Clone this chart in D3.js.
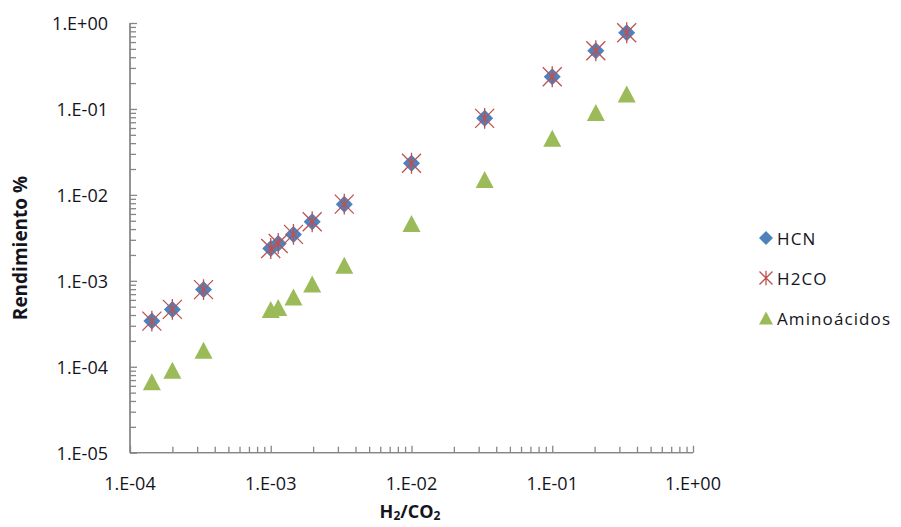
<!DOCTYPE html>
<html><head><meta charset="utf-8">
<script src="https://cdn.jsdelivr.net/npm/d3@7"></script>
<style>
body{margin:0;background:#fff;}
text{font-family:"Open Sans",sans-serif;fill:#14141c;}
</style></head>
<body><svg id="c" width="901" height="527"></svg>
<script>
const xVals   = [1.43e-4, 2.0e-4, 3.33e-4, 1.0e-3, 1.13e-3, 1.45e-3, 1.97e-3, 3.33e-3, 1.0e-2, 3.31e-2, 0.1, 0.204, 0.338];
const hcn     = [3.4e-4, 4.65e-4, 7.9e-4, 2.38e-3, 2.72e-3, 3.47e-3, 4.86e-3, 7.8e-3, 2.33e-2, 7.77e-2, 0.237, 0.476, 0.771];
const h2co    = [3.4e-4, 4.65e-4, 7.9e-4, 2.38e-3, 2.72e-3, 3.47e-3, 4.86e-3, 7.8e-3, 2.33e-2, 7.77e-2, 0.237, 0.476, 0.771];
const amino   = [6.7e-5, 9.1e-5, 1.56e-4, 4.65e-4, 4.9e-4, 6.5e-4, 9.2e-4, 1.52e-3, 4.66e-3, 1.51e-2, 4.55e-2, 9.12e-2, 0.149];
const seriesNames = ["HCN", "H2CO", "Aminoácidos"];
const xTickLabels = ["1.E-04","1.E-03","1.E-02","1.E-01","1.E+00"];
const yTickLabels = ["1.E-05","1.E-04","1.E-03","1.E-02","1.E-01","1.E+00"];

const svg = d3.select("#c");
const x = d3.scaleLog().domain([1e-4, 1]).range([130, 693]);
const y = d3.scaleLog().domain([1e-5, 1]).range([452.7, 23]);
const axisColor = "#868686";

const xMinor = [], yMinor = [];
for (let e = -4; e < 0; e++) for (let m = 2; m <= 9; m++) xMinor.push(m * Math.pow(10, e));
for (let e = -5; e < 0; e++) for (let m = 2; m <= 9; m++) yMinor.push(m * Math.pow(10, e));
const xMajor = xTickLabels.map(s => +s.replace(".E", "e"));
const yMajor = yTickLabels.map(s => +s.replace(".E", "e"));

const gx = svg.append("g").attr("transform", `translate(0,${y(1e-5)})`);
gx.call(d3.axisBottom(x).tickValues(xMinor).tickSize(-6).tickFormat(""));
gx.call(g => g.append("g").call(d3.axisBottom(x).tickValues(xMajor).tickSize(-7).tickFormat("")));
gx.selectAll("path,line").attr("stroke", axisColor).attr("stroke-width", 1.3);
gx.selectAll("path").attr("d", `M${x(1e-4)},0H${x(1)}`);
gx.selectAll(".lbl").data(xMajor).enter().append("text")
  .attr("x", d => x(d)).attr("y", 30).attr("text-anchor", "middle")
  .attr("dominant-baseline", "central").attr("font-size", 18)
  .text((d, i) => xTickLabels[i]);

const gy = svg.append("g").attr("transform", `translate(${x(1e-4)},0)`);
gy.call(d3.axisLeft(y).tickValues(yMinor).tickSize(-6).tickFormat(""));
gy.call(g => g.append("g").call(d3.axisLeft(y).tickValues(yMajor).tickSize(-7).tickFormat("")));
gy.selectAll("path,line").attr("stroke", axisColor).attr("stroke-width", 1.3);
gy.selectAll("path").attr("d", `M0,${y(1e-5)}V${y(1)}`);
gy.selectAll(".lbl").data(yMajor).enter().append("text")
  .attr("x", -22).attr("y", d => y(d)).attr("text-anchor", "end")
  .attr("dominant-baseline", "central").attr("font-size", 18)
  .text((d, i) => yTickLabels[i]);

svg.append("text").attr("transform", "translate(20,248) rotate(-90)")
  .attr("text-anchor", "middle").attr("dominant-baseline", "central")
  .attr("font-size", 19).attr("font-weight", "bold").text("Rendimiento %");
const xt = svg.append("text").attr("x", 410).attr("y", 511).attr("text-anchor", "middle")
  .attr("dominant-baseline", "central").attr("font-size", 18).attr("font-weight", "bold");
xt.append("tspan").text("H");
xt.append("tspan").attr("font-size", 12).attr("dy", 4).text("2");
xt.append("tspan").attr("dy", -4).text("/CO");
xt.append("tspan").attr("font-size", 12).attr("dy", 4).text("2");

const blue = "#4F81BD", red = "#C0504D", green = "#9BBB59";
function diamond(g, cx, cy, r) {
  g.append("path").attr("d", `M${cx},${cy - r}L${cx + r},${cy}L${cx},${cy + r}L${cx - r},${cy}Z`).attr("fill", blue);
}
function star(g, cx, cy, r) {
  g.append("path").attr("d", `M${cx - r},${cy - r}L${cx + r},${cy + r}M${cx - r},${cy + r}L${cx + r},${cy - r}M${cx},${cy - r * 1.1}L${cx},${cy + r * 1.1}`)
    .attr("stroke", red).attr("stroke-width", 1.3).attr("fill", "none");
}
function tri(g, cx, cy, w, h) {
  g.append("path").attr("d", `M${cx},${cy - h / 2}L${cx + w / 2},${cy + h / 2}L${cx - w / 2},${cy + h / 2}Z`).attr("fill", green);
}
const gm = svg.append("g");
xVals.forEach((xv, i) => diamond(gm, x(xv), y(hcn[i]), 8.5));
xVals.forEach((xv, i) => star(gm, x(xv), y(h2co[i]), 9.5));
xVals.forEach((xv, i) => tri(gm, x(xv), y(amino[i]), 18, 17));

const lg = svg.append("g");
const ly = [238, 278, 318];
diamond(lg, 766, ly[0], 7);
star(lg, 766, ly[1], 6.5);
tri(lg, 766, ly[2], 14, 13);
seriesNames.forEach((n, i) => lg.append("text").attr("x", 777).attr("y", ly[i])
  .attr("dominant-baseline", "central").attr("font-size", 17).attr("letter-spacing", 1.1).text(n));
</script></body></html>
